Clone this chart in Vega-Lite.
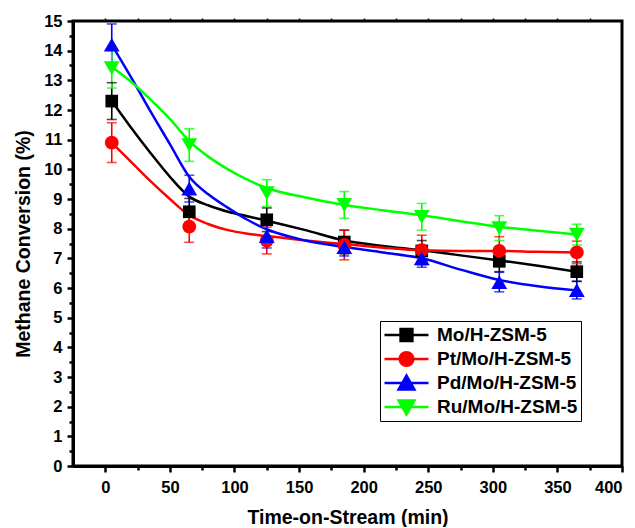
{
  "$schema": "https://vega.github.io/schema/vega-lite/v6.json",
  "width": 549,
  "height": 445,
  "padding": {"left": 13, "top": 13, "right": 5, "bottom": 0},
  "config": {
    "view": {"stroke": "black", "strokeWidth": 3},
    "axis": {
      "grid": false,
      "domainColor": "black",
      "domainWidth": 3,
      "tickColor": "black",
      "tickWidth": 2.5,
      "labelFont": "Liberation Sans",
      "labelFontWeight": "bold",
      "labelFontSize": 16.5,
      "labelColor": "black",
      "titleFont": "Liberation Sans",
      "titleFontWeight": "bold",
      "titleFontSize": 19.5,
      "titleColor": "black"
    },
    "legend": {
      "labelFont": "Liberation Sans",
      "labelFontWeight": "bold",
      "labelFontSize": 19,
      "labelColor": "black"
    }
  },
  "datasets": {
    "pts": [
      {"series": "Mo/H-ZSM-5", "t": 5, "v": 12.3, "lo": 11.68, "hi": 12.92},
      {"series": "Mo/H-ZSM-5", "t": 65, "v": 8.57, "lo": 8.12, "hi": 9.02},
      {"series": "Mo/H-ZSM-5", "t": 125, "v": 8.3, "lo": 7.9, "hi": 8.7},
      {"series": "Mo/H-ZSM-5", "t": 185, "v": 7.55, "lo": 7.15, "hi": 7.95},
      {"series": "Mo/H-ZSM-5", "t": 245, "v": 7.25, "lo": 6.9, "hi": 7.6},
      {"series": "Mo/H-ZSM-5", "t": 305, "v": 6.9, "lo": 6.55, "hi": 7.25},
      {"series": "Mo/H-ZSM-5", "t": 365, "v": 6.55, "lo": 6.22, "hi": 6.88},
      {"series": "Pt/Mo/H-ZSM-5", "t": 5, "v": 10.9, "lo": 10.23, "hi": 11.57},
      {"series": "Pt/Mo/H-ZSM-5", "t": 65, "v": 8.07, "lo": 7.54, "hi": 8.6},
      {"series": "Pt/Mo/H-ZSM-5", "t": 125, "v": 7.6, "lo": 7.15, "hi": 8.05},
      {"series": "Pt/Mo/H-ZSM-5", "t": 185, "v": 7.45, "lo": 6.95, "hi": 7.95},
      {"series": "Pt/Mo/H-ZSM-5", "t": 245, "v": 7.28, "lo": 6.78, "hi": 7.78},
      {"series": "Pt/Mo/H-ZSM-5", "t": 305, "v": 7.25, "lo": 6.77, "hi": 7.73},
      {"series": "Pt/Mo/H-ZSM-5", "t": 365, "v": 7.2, "lo": 6.82, "hi": 7.58},
      {"series": "Pd/Mo/H-ZSM-5", "t": 5, "v": 14.2, "lo": 13.5, "hi": 14.9},
      {"series": "Pd/Mo/H-ZSM-5", "t": 65, "v": 9.35, "lo": 8.9, "hi": 9.8},
      {"series": "Pd/Mo/H-ZSM-5", "t": 125, "v": 7.75, "lo": 7.35, "hi": 8.15},
      {"series": "Pd/Mo/H-ZSM-5", "t": 185, "v": 7.38, "lo": 7.08, "hi": 7.68},
      {"series": "Pd/Mo/H-ZSM-5", "t": 245, "v": 7.0, "lo": 6.7, "hi": 7.3},
      {"series": "Pd/Mo/H-ZSM-5", "t": 305, "v": 6.2, "lo": 5.87, "hi": 6.53},
      {"series": "Pd/Mo/H-ZSM-5", "t": 365, "v": 5.93, "lo": 5.63, "hi": 6.23},
      {"series": "Ru/Mo/H-ZSM-5", "t": 5, "v": 13.41, "lo": 12.74, "hi": 14.08},
      {"series": "Ru/Mo/H-ZSM-5", "t": 65, "v": 10.82, "lo": 10.27, "hi": 11.37},
      {"series": "Ru/Mo/H-ZSM-5", "t": 125, "v": 9.2, "lo": 8.75, "hi": 9.65},
      {"series": "Ru/Mo/H-ZSM-5", "t": 185, "v": 8.8, "lo": 8.35, "hi": 9.25},
      {"series": "Ru/Mo/H-ZSM-5", "t": 245, "v": 8.4, "lo": 7.95, "hi": 8.85},
      {"series": "Ru/Mo/H-ZSM-5", "t": 305, "v": 8.02, "lo": 7.6, "hi": 8.44},
      {"series": "Ru/Mo/H-ZSM-5", "t": 365, "v": 7.8, "lo": 7.45, "hi": 8.15}
    ],
    "curves": [
      {"series": "Mo/H-ZSM-5", "t": 5, "v": 12.3},
      {"series": "Mo/H-ZSM-5", "t": 20, "v": 11.4},
      {"series": "Mo/H-ZSM-5", "t": 35, "v": 10.55},
      {"series": "Mo/H-ZSM-5", "t": 50, "v": 9.75},
      {"series": "Mo/H-ZSM-5", "t": 65, "v": 9.08},
      {"series": "Mo/H-ZSM-5", "t": 80, "v": 8.78},
      {"series": "Mo/H-ZSM-5", "t": 95, "v": 8.57},
      {"series": "Mo/H-ZSM-5", "t": 110, "v": 8.42},
      {"series": "Mo/H-ZSM-5", "t": 125, "v": 8.27},
      {"series": "Mo/H-ZSM-5", "t": 155, "v": 7.95},
      {"series": "Mo/H-ZSM-5", "t": 185, "v": 7.6},
      {"series": "Mo/H-ZSM-5", "t": 215, "v": 7.42},
      {"series": "Mo/H-ZSM-5", "t": 245, "v": 7.27},
      {"series": "Mo/H-ZSM-5", "t": 275, "v": 7.1},
      {"series": "Mo/H-ZSM-5", "t": 305, "v": 6.93},
      {"series": "Mo/H-ZSM-5", "t": 335, "v": 6.75},
      {"series": "Mo/H-ZSM-5", "t": 365, "v": 6.55},
      {"series": "Pt/Mo/H-ZSM-5", "t": 5, "v": 10.9},
      {"series": "Pt/Mo/H-ZSM-5", "t": 20, "v": 10.25},
      {"series": "Pt/Mo/H-ZSM-5", "t": 35, "v": 9.6},
      {"series": "Pt/Mo/H-ZSM-5", "t": 50, "v": 9.0},
      {"series": "Pt/Mo/H-ZSM-5", "t": 65, "v": 8.45},
      {"series": "Pt/Mo/H-ZSM-5", "t": 80, "v": 8.15},
      {"series": "Pt/Mo/H-ZSM-5", "t": 95, "v": 7.95},
      {"series": "Pt/Mo/H-ZSM-5", "t": 110, "v": 7.83},
      {"series": "Pt/Mo/H-ZSM-5", "t": 125, "v": 7.75},
      {"series": "Pt/Mo/H-ZSM-5", "t": 155, "v": 7.6},
      {"series": "Pt/Mo/H-ZSM-5", "t": 185, "v": 7.48},
      {"series": "Pt/Mo/H-ZSM-5", "t": 215, "v": 7.36},
      {"series": "Pt/Mo/H-ZSM-5", "t": 245, "v": 7.27},
      {"series": "Pt/Mo/H-ZSM-5", "t": 275, "v": 7.25},
      {"series": "Pt/Mo/H-ZSM-5", "t": 305, "v": 7.25},
      {"series": "Pt/Mo/H-ZSM-5", "t": 335, "v": 7.22},
      {"series": "Pt/Mo/H-ZSM-5", "t": 365, "v": 7.2},
      {"series": "Pd/Mo/H-ZSM-5", "t": 5, "v": 14.2},
      {"series": "Pd/Mo/H-ZSM-5", "t": 20, "v": 13.1},
      {"series": "Pd/Mo/H-ZSM-5", "t": 35, "v": 11.95},
      {"series": "Pd/Mo/H-ZSM-5", "t": 50, "v": 10.85},
      {"series": "Pd/Mo/H-ZSM-5", "t": 65, "v": 9.75},
      {"series": "Pd/Mo/H-ZSM-5", "t": 80, "v": 9.15},
      {"series": "Pd/Mo/H-ZSM-5", "t": 95, "v": 8.7},
      {"series": "Pd/Mo/H-ZSM-5", "t": 110, "v": 8.3},
      {"series": "Pd/Mo/H-ZSM-5", "t": 125, "v": 7.98},
      {"series": "Pd/Mo/H-ZSM-5", "t": 155, "v": 7.6},
      {"series": "Pd/Mo/H-ZSM-5", "t": 185, "v": 7.38},
      {"series": "Pd/Mo/H-ZSM-5", "t": 215, "v": 7.2},
      {"series": "Pd/Mo/H-ZSM-5", "t": 245, "v": 7.0},
      {"series": "Pd/Mo/H-ZSM-5", "t": 275, "v": 6.62},
      {"series": "Pd/Mo/H-ZSM-5", "t": 305, "v": 6.27},
      {"series": "Pd/Mo/H-ZSM-5", "t": 335, "v": 6.06},
      {"series": "Pd/Mo/H-ZSM-5", "t": 365, "v": 5.92},
      {"series": "Ru/Mo/H-ZSM-5", "t": 5, "v": 13.45},
      {"series": "Ru/Mo/H-ZSM-5", "t": 20, "v": 12.95},
      {"series": "Ru/Mo/H-ZSM-5", "t": 35, "v": 12.35},
      {"series": "Ru/Mo/H-ZSM-5", "t": 50, "v": 11.7},
      {"series": "Ru/Mo/H-ZSM-5", "t": 65, "v": 10.95},
      {"series": "Ru/Mo/H-ZSM-5", "t": 80, "v": 10.42},
      {"series": "Ru/Mo/H-ZSM-5", "t": 95, "v": 10.0},
      {"series": "Ru/Mo/H-ZSM-5", "t": 110, "v": 9.65},
      {"series": "Ru/Mo/H-ZSM-5", "t": 125, "v": 9.37},
      {"series": "Ru/Mo/H-ZSM-5", "t": 155, "v": 9.05},
      {"series": "Ru/Mo/H-ZSM-5", "t": 185, "v": 8.8},
      {"series": "Ru/Mo/H-ZSM-5", "t": 215, "v": 8.62},
      {"series": "Ru/Mo/H-ZSM-5", "t": 245, "v": 8.45},
      {"series": "Ru/Mo/H-ZSM-5", "t": 275, "v": 8.25},
      {"series": "Ru/Mo/H-ZSM-5", "t": 305, "v": 8.06},
      {"series": "Ru/Mo/H-ZSM-5", "t": 335, "v": 7.93},
      {"series": "Ru/Mo/H-ZSM-5", "t": 365, "v": 7.8}
    ]
  },
  "resolve": {"axis": {"x": "independent", "y": "independent"}},
  "layer": [
    {
      "data": {"name": "pts"},
      "mark": {"type": "point", "filled": true, "strokeWidth": 2.5, "opacity": 0},
      "encoding": {
        "x": {"field": "t", "type": "quantitative",
          "scale": {"domain": [-25, 400], "nice": false, "zero": false},
          "axis": {"orient": "bottom", "values": [0, 50, 100, 150, 200, 250, 300, 350, 400], "tickSize": 6, "labelPadding": 7, "title": "Time-on-Stream (min)", "titlePadding": 13}},
        "y": {"field": "v", "type": "quantitative",
          "scale": {"domain": [0, 15], "nice": false},
          "axis": {"orient": "left", "values": [0, 1, 2, 3, 4, 5, 6, 7, 8, 9, 10, 11, 12, 13, 14, 15], "tickSize": 6, "labelPadding": 5, "title": "Methane Conversion (%)", "titlePadding": 10}},
        "fill": {"field": "series", "type": "nominal",
          "scale": {"domain": ["Mo/H-ZSM-5", "Pt/Mo/H-ZSM-5", "Pd/Mo/H-ZSM-5", "Ru/Mo/H-ZSM-5"], "range": ["#000000", "#ff0000", "#0000ff", "#00ff00"]},
          "legend": {"title": null, "orient": "none", "legendX": 307, "legendY": 300, "padding": 3, "strokeColor": "black", "fillColor": "white", "symbolSize": 1936, "symbolStrokeWidth": 2.5, "symbolOpacity": 1, "clipHeight": 22, "rowPadding": 2, "labelOffset": 7, "labelFont": "Liberation Sans", "labelFontWeight": "bold", "labelFontSize": 19, "labelColor": "black", "labelLimit": 300}},
        "stroke": {"field": "series", "type": "nominal",
          "scale": {"domain": ["Mo/H-ZSM-5", "Pt/Mo/H-ZSM-5", "Pd/Mo/H-ZSM-5", "Ru/Mo/H-ZSM-5"], "range": ["#000000", "#ff0000", "#0000ff", "#00ff00"]},
          "legend": {"title": null, "orient": "none", "legendX": 307, "legendY": 300, "padding": 3, "strokeColor": "black", "fillColor": "white", "symbolSize": 1936, "symbolStrokeWidth": 2.5, "symbolOpacity": 1, "clipHeight": 22, "rowPadding": 2, "labelOffset": 7, "labelFont": "Liberation Sans", "labelFontWeight": "bold", "labelFontSize": 19, "labelColor": "black", "labelLimit": 300}},
        "shape": {"field": "series", "type": "nominal",
          "scale": {"domain": ["Mo/H-ZSM-5", "Pt/Mo/H-ZSM-5", "Pd/Mo/H-ZSM-5", "Ru/Mo/H-ZSM-5"],
            "range": ["M-1,0H1M-0.27,-0.27H0.27V0.27H-0.27Z", "M-1,0H1M0.31,0A0.31,0.31 0 1,1 -0.31,0A0.31,0.31 0 1,1 0.31,0Z", "M-1,0H1M0,-0.34L0.36,0.3H-0.36Z", "M-1,0H1M0,0.34L0.36,-0.3H-0.36Z"]},
          "legend": {"title": null, "orient": "none", "legendX": 307, "legendY": 300, "padding": 3, "strokeColor": "black", "fillColor": "white", "symbolSize": 1936, "symbolStrokeWidth": 2.5, "symbolOpacity": 1, "clipHeight": 22, "rowPadding": 2, "labelOffset": 7, "labelFont": "Liberation Sans", "labelFontWeight": "bold", "labelFontSize": 19, "labelColor": "black", "labelLimit": 300}}
      }
    },
    {
      "data": {"name": "curves"},
      "mark": {"type": "line", "interpolate": "monotone", "strokeWidth": 2.5},
      "encoding": {
        "x": {"field": "t", "type": "quantitative",
          "axis": {"orient": "bottom", "values": [25, 75, 125, 175, 225, 275, 325, 375], "tickSize": 4, "labels": false, "domain": false, "title": null}},
        "y": {"field": "v", "type": "quantitative",
          "axis": {"orient": "left", "values": [0.5, 1.5, 2.5, 3.5, 4.5, 5.5, 6.5, 7.5, 8.5, 9.5, 10.5, 11.5, 12.5, 13.5, 14.5], "tickSize": 4, "labels": false, "domain": false, "title": null}},
        "stroke": {"field": "series", "type": "nominal", "legend": null}
      }
    },
    {
      "data": {"name": "pts"},
      "mark": {"type": "rule", "strokeWidth": 1.6},
      "encoding": {
        "x": {"field": "t", "type": "quantitative",
          "axis": {"orient": "top", "values": [0, 25, 50, 75, 100, 125, 150, 175, 200, 225, 250, 275, 300, 325, 350, 375], "tickSize": 3, "tickWidth": 1.5, "labels": false, "domain": false, "title": null}},
        "y": {"field": "lo", "type": "quantitative", "axis": null},
        "y2": {"field": "hi"},
        "stroke": {"field": "series", "type": "nominal", "legend": null}
      }
    },
    {
      "data": {"name": "pts"},
      "mark": {"type": "tick", "orient": "horizontal", "size": 10, "thickness": 1.6},
      "encoding": {
        "x": {"field": "t", "type": "quantitative", "axis": null},
        "y": {"field": "hi", "type": "quantitative", "axis": null},
        "color": {"field": "series", "type": "nominal", "scale": {"domain": ["Mo/H-ZSM-5", "Pt/Mo/H-ZSM-5", "Pd/Mo/H-ZSM-5", "Ru/Mo/H-ZSM-5"], "range": ["#000000", "#ff0000", "#0000ff", "#00ff00"]}, "legend": null}
      }
    },
    {
      "data": {"name": "pts"},
      "mark": {"type": "tick", "orient": "horizontal", "size": 10, "thickness": 1.6},
      "encoding": {
        "x": {"field": "t", "type": "quantitative", "axis": null},
        "y": {"field": "lo", "type": "quantitative", "axis": null},
        "color": {"field": "series", "type": "nominal", "legend": null}
      }
    },
    {
      "data": {"name": "pts"},
      "transform": [{"filter": "datum.series == 'Mo/H-ZSM-5'"}],
      "mark": {"type": "point", "shape": "square", "filled": true, "opacity": 1, "size": 160, "color": "#000000"},
      "encoding": {
        "x": {"field": "t", "type": "quantitative", "axis": null},
        "y": {"field": "v", "type": "quantitative", "axis": null}
      }
    },
    {
      "data": {"name": "pts"},
      "transform": [{"filter": "datum.series == 'Pt/Mo/H-ZSM-5'"}],
      "mark": {"type": "point", "shape": "circle", "filled": true, "opacity": 1, "size": 190, "color": "#ff0000"},
      "encoding": {
        "x": {"field": "t", "type": "quantitative", "axis": null},
        "y": {"field": "v", "type": "quantitative", "axis": null}
      }
    },
    {
      "data": {"name": "pts"},
      "transform": [{"filter": "datum.series == 'Pd/Mo/H-ZSM-5'"}],
      "mark": {"type": "point", "shape": "triangle-up", "filled": true, "opacity": 1, "size": 250, "color": "#0000ff"},
      "encoding": {
        "x": {"field": "t", "type": "quantitative", "axis": null},
        "y": {"field": "v", "type": "quantitative", "axis": null}
      }
    },
    {
      "data": {"name": "pts"},
      "transform": [{"filter": "datum.series == 'Ru/Mo/H-ZSM-5'"}],
      "mark": {"type": "point", "shape": "triangle-down", "filled": true, "opacity": 1, "size": 250, "color": "#00ff00"},
      "encoding": {
        "x": {"field": "t", "type": "quantitative", "axis": null},
        "y": {"field": "v", "type": "quantitative", "axis": null}
      }
    }
  ]
}
